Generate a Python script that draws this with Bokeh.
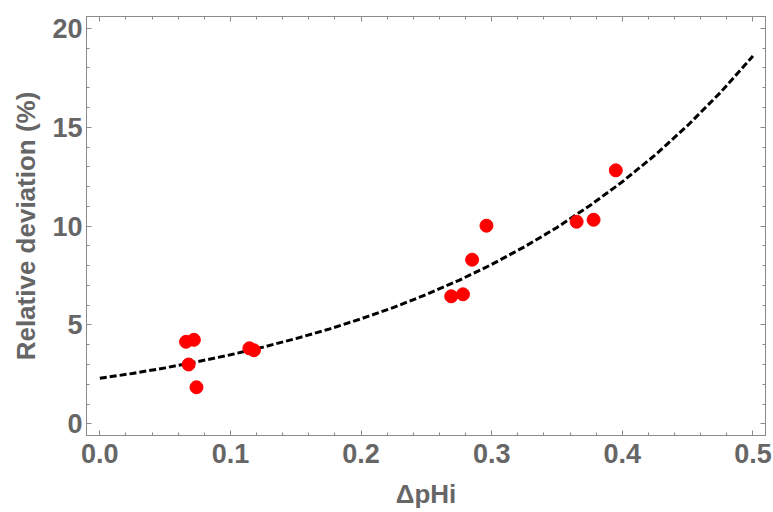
from bokeh.plotting import figure
from bokeh.models import Range1d, LinearAxis, SingleIntervalTicker, FixedTicker, PrintfTickFormatter
from bokeh.embed import file_html
from bokeh.resources import INLINE

# measured points (ΔpHi, relative deviation %)
dphi = [0.066, 0.072, 0.068, 0.074, 0.1145, 0.118, 0.269, 0.278, 0.285, 0.296, 0.365, 0.378, 0.395]
rel_dev = [4.15, 4.25, 3.0, 1.85, 3.82, 3.72, 6.45, 6.55, 8.3, 10.02, 10.22, 10.32, 12.82]

# fitted curve
fit_x = [0.0, 0.025, 0.05, 0.075, 0.1, 0.125, 0.15, 0.175, 0.2, 0.225, 0.25,
         0.275, 0.3, 0.325, 0.35, 0.375, 0.4, 0.425, 0.45, 0.475, 0.5]
fit_y = [2.30, 2.55, 2.83, 3.15, 3.49, 3.88, 4.31, 4.78, 5.31, 5.89, 6.54,
         7.26, 8.06, 8.95, 9.93, 11.03, 12.24, 13.59, 15.09, 16.75, 18.6]

# tick positions for the frame's top and right edges
x_major_ticks = [0.0, 0.1, 0.2, 0.3, 0.4, 0.5]
x_minor_ticks = [0.02, 0.04, 0.06, 0.08, 0.12, 0.14, 0.16, 0.18, 0.22, 0.24, 0.26, 0.28,
                 0.32, 0.34, 0.36, 0.38, 0.42, 0.44, 0.46, 0.48]
y_major_ticks = [0, 5, 10, 15, 20]
y_minor_ticks = [1, 2, 3, 4, 6, 7, 8, 9, 11, 12, 13, 14, 16, 17, 18, 19]

x_label = "ΔpHi"
y_label = "Relative deviation (%)"

FONT = "Liberation Sans"
TXT = "#666666"
FRAME = "#8a8a8a"

p = figure(width=773, height=512, output_backend="svg", toolbar_location=None,
           x_range=Range1d(-0.0102, 0.5096), y_range=Range1d(-0.59, 20.6),
           x_axis_location=None, y_axis_location=None,
           min_border_left=86, min_border_right=8, min_border_top=16, min_border_bottom=77)
p.xgrid.visible = False
p.ygrid.visible = False
p.outline_line_color = FRAME
p.background_fill_color = "white"
p.border_fill_color = "white"


def style(ax):
    ax.axis_line_color = FRAME
    ax.axis_line_width = 1
    ax.major_tick_line_color = FRAME
    ax.minor_tick_line_color = FRAME
    ax.major_tick_in = 5
    ax.major_tick_out = 0
    ax.minor_tick_in = 3
    ax.minor_tick_out = 0
    ax.major_label_text_font = FONT
    ax.major_label_text_font_style = "bold"
    ax.major_label_text_color = TXT
    ax.major_label_text_font_size = "27px"
    ax.axis_label_text_font = FONT
    ax.axis_label_text_font_style = "bold"
    ax.axis_label_text_color = TXT
    ax.axis_label_text_font_size = "26px"


xb = LinearAxis(ticker=SingleIntervalTicker(interval=0.1, num_minor_ticks=5),
                formatter=PrintfTickFormatter(format="%.1f"), axis_label=x_label)
style(xb)
xb.major_label_standoff = 8
xb.axis_label_standoff = 13
yl = LinearAxis(ticker=SingleIntervalTicker(interval=5, num_minor_ticks=5),
                formatter=PrintfTickFormatter(format="%d"), axis_label=y_label)
style(yl)
yl.major_label_standoff = 4
yl.axis_label_standoff = 8
p.add_layout(xb, "below")
p.add_layout(yl, "left")

# label-free tick rows on top and right (only minor ticks, so no labels are drawn)
for side, majors, minors in (("above", x_major_ticks, x_minor_ticks),
                             ("right", y_major_ticks, y_minor_ticks)):
    a1 = LinearAxis(ticker=FixedTicker(ticks=[], minor_ticks=majors))
    style(a1)
    a1.minor_tick_in = 5
    a1.major_label_standoff = 0
    a2 = LinearAxis(ticker=FixedTicker(ticks=[], minor_ticks=minors))
    style(a2)
    a2.major_label_standoff = 0
    p.add_layout(a1, side)
    p.add_layout(a2, side)

p.line(fit_x, fit_y, line_color="black", line_width=3, line_dash="7 3")
p.scatter(dphi, rel_dev, size=13, fill_color="#ff0000", line_color="#ff0000")

open("out.html", "w").write(file_html(p, INLINE))
